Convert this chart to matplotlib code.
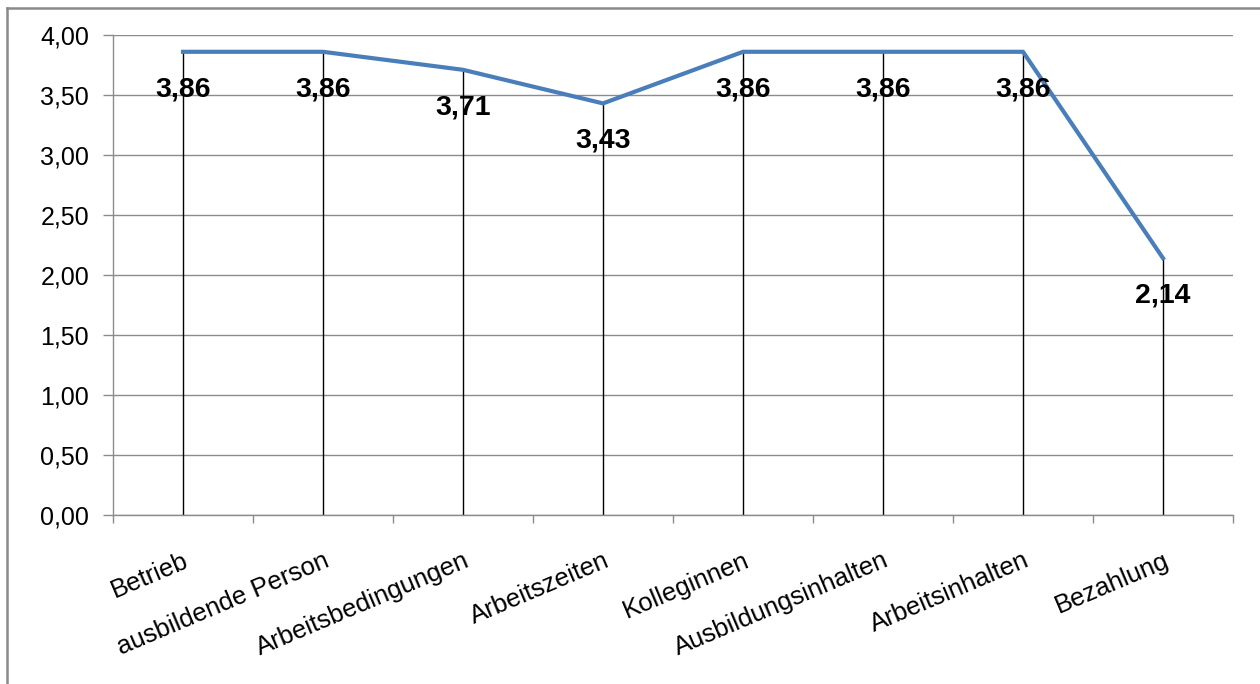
import numpy as np
import matplotlib
matplotlib.use("Agg")
import matplotlib.pyplot as plt
from matplotlib.lines import Line2D

categories = ["Betrieb", "ausbildende Person", "Arbeitsbedingungen", "Arbeitszeiten",
              "Kolleginnen", "Ausbildungsinhalten", "Arbeitsinhalten", "Bezahlung"]
values = [3.86, 3.86, 3.71, 3.43, 3.86, 3.86, 3.86, 2.14]
y_ticks = [0.0, 0.5, 1.0, 1.5, 2.0, 2.5, 3.0, 3.5, 4.0]

plt.rcParams["font.family"] = ["Liberation Sans", "DejaVu Sans"]

fig = plt.figure(figsize=(12.6, 6.84), dpi=100)
ax = fig.add_axes([113 / 1260, 1 - 515 / 684, 1120 / 1260, 480 / 684])

x = np.arange(len(values))
grid_col = "#8c8c8c"

for yv in y_ticks:
    ax.axhline(yv, color=grid_col, lw=1.0, zorder=1)

# drop lines + the series line
ax.vlines(x, 0, values, color="black", lw=1.0, zorder=2)
ax.plot(x, values, color="#4a7ebb", lw=3.0, solid_joinstyle="miter", zorder=3)

for xi, v in zip(x, values):
    ax.annotate(("%.2f" % v).replace(".", ","), (xi, v), xytext=(0, -27),
                textcoords="offset points", ha="center", va="center",
                fontsize=20.5, fontweight="bold", color="black", zorder=4)

ax.set_xlim(-0.5, len(values) - 0.5)
ax.set_ylim(0, 4)

ax.set_yticks(y_ticks)
ax.set_yticklabels([("%.2f" % t).replace(".", ",") for t in y_ticks], fontsize=18)
ax.tick_params(axis="y", length=7.2, width=1, color=grid_col, pad=10)

ax.set_xticks(x)
ax.set_xticklabels(categories, fontsize=18.5, rotation=23, ha="right", va="top",
                   rotation_mode="anchor")
ax.tick_params(axis="x", which="major", length=0, pad=24)
ax.set_xticks(np.arange(-0.5, len(values), 1.0), minor=True)
ax.tick_params(axis="x", which="minor", length=6, width=1, color=grid_col)

for side in ["top", "right"]:
    ax.spines[side].set_visible(False)
for side in ["left", "bottom"]:
    ax.spines[side].set_color(grid_col)
    ax.spines[side].set_linewidth(1.0)

# outer chart frame
fig.add_artist(Line2D([7 / 1260, 7 / 1260], [0, 1 - 8 / 684], color="#8a8a8a", lw=1.8,
                      transform=fig.transFigure))
fig.add_artist(Line2D([7 / 1260, 1], [1 - 8 / 684, 1 - 8 / 684], color="#8a8a8a", lw=1.8,
                      transform=fig.transFigure))

fig.savefig("out.png", dpi=100, facecolor="white")
